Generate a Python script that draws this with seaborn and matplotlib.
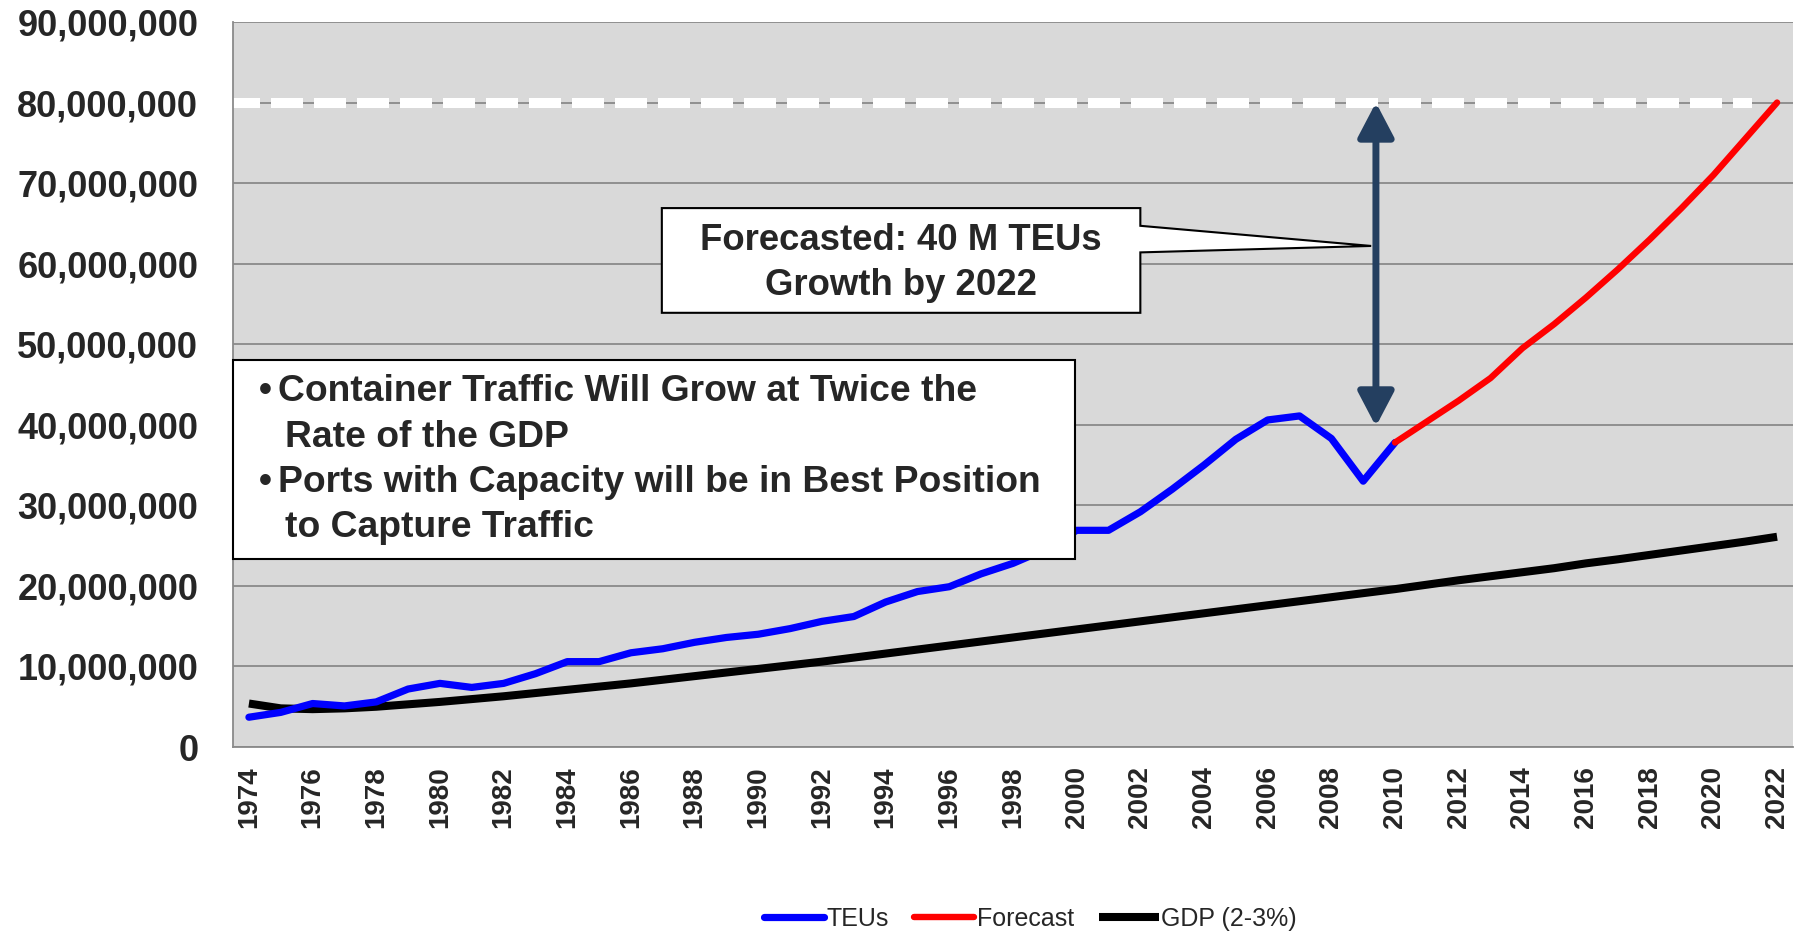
import numpy as np
import matplotlib
matplotlib.use("Agg")
import matplotlib.pyplot as plt
import seaborn as sns
from matplotlib.patches import Polygon, Rectangle
from matplotlib.ticker import FuncFormatter, MultipleLocator

# values in millions of TEUs
teu_years = list(range(1974, 2011))
teu_values = [3.7, 4.3, 5.4, 5.1, 5.6, 7.2, 7.9, 7.4, 7.9, 9.1,
              10.6, 10.6, 11.7, 12.2, 13.0, 13.6, 14.0, 14.7, 15.6, 16.2,
              18.0, 19.3, 19.9, 21.5, 22.8, 24.5, 26.9, 26.9, 29.2, 32.0,
              35.0, 38.2, 40.6, 41.1, 38.3, 33.0, 37.8]

forecast_years = list(range(2010, 2023))
forecast_values = [37.8, 40.4, 43.0, 45.8, 49.5, 52.5, 55.8, 59.3, 63.0,
                   66.9, 71.0, 75.5, 80.0]

gdp_years = list(range(1974, 2023))
gdp_values = [5.4, 4.8, 4.7, 4.8, 5.0, 5.3, 5.6, 5.95, 6.3, 6.7,
              7.1, 7.5, 7.9, 8.35, 8.8, 9.25, 9.7, 10.15, 10.6, 11.1,
              11.6, 12.1, 12.6, 13.1, 13.6, 14.1, 14.6, 15.1, 15.6, 16.1,
              16.6, 17.1, 17.6, 18.1, 18.6, 19.1, 19.6, 20.15, 20.7, 21.2,
              21.7, 22.2, 22.8, 23.3, 23.85, 24.4, 24.95, 25.5, 26.1]

capacity_level = 80.0
tick_years = list(range(1974, 2023, 2))

M = 1e6
sns.set_style("white")
plt.rcParams['font.family'] = ['Liberation Sans', 'DejaVu Sans']

fig = plt.figure(figsize=(18.02, 9.36), dpi=100)
ax = fig.add_axes([0.1293, 0.2019, 0.8657, 0.7746])
ax.set_facecolor('#D9D9D9')

grid_c = '#8A8A8A'
ax.set_ylim(0, 90 * M)
ax.set_xlim(1973.5, 2022.5)
ax.yaxis.set_major_locator(MultipleLocator(10 * M))
ax.yaxis.set_major_formatter(FuncFormatter(lambda v, p: f"{int(round(v)):,}"))
ax.grid(axis='y', color=grid_c, linewidth=1.3, zorder=0)
ax.set_axisbelow(True)
for s in ['top', 'right']:
    ax.spines[s].set_visible(False)
for s in ['left', 'bottom']:
    ax.spines[s].set_color(grid_c)
    ax.spines[s].set_linewidth(1.3)

# white dashed capacity line
ax.plot([1973.35, 2021.2], [capacity_level * M] * 2, color='white', linewidth=7.2,
        dashes=(3.2, 1.1), dash_capstyle='butt', clip_on=False, zorder=2)

sns.lineplot(x=teu_years, y=np.array(teu_values) * M, ax=ax, color='#0000FF',
             linewidth=5.2, label='TEUs', zorder=4, solid_capstyle='round',
             solid_joinstyle='round')
sns.lineplot(x=forecast_years, y=np.array(forecast_values) * M, ax=ax, color='#FF0000',
             linewidth=4.6, label='Forecast', zorder=4, solid_capstyle='round',
             solid_joinstyle='round')
sns.lineplot(x=gdp_years, y=np.array(gdp_values) * M, ax=ax, color='black',
             linewidth=5.8, label='GDP (2-3%)', zorder=3, solid_capstyle='butt',
             solid_joinstyle='round')

handles, labels = ax.get_legend_handles_labels()
ax.get_legend().remove()

# ticks
ax.set_xticks(tick_years)
ax.set_xticklabels([str(y) for y in tick_years], rotation=90, fontsize=20,
                   fontweight='bold')
ax.set_xticks(np.arange(1973.5, 2023, 2), minor=True)
ax.tick_params(axis='x', which='major', length=0, pad=14)
ax.tick_params(axis='x', which='minor', length=7, width=1.3, color=grid_c)
ax.tick_params(axis='y', length=5, width=1.3, color=grid_c, pad=20,
               labelsize=26)
for t in ax.get_yticklabels():
    t.set_fontweight('bold')
ax.set_xlabel('')
ax.set_ylabel('')

# bullet box
ax.add_patch(Rectangle((1973.5, 23.3 * M), 1999.95 - 1973.5, 24.7 * M,
                       facecolor='white', edgecolor='black', linewidth=1.5,
                       zorder=6, clip_on=False))
bullet_lines = [(1974.3, 1974.9, 44.1, '•', 'Container Traffic Will Grow at Twice the'),
                (None, 1975.13, 38.4, '', 'Rate of the GDP'),
                (1974.3, 1974.9, 32.8, '•', 'Ports with Capacity will be in Best Position'),
                (None, 1975.13, 27.2, '', 'to Capture Traffic')]
for bx, tx, ty, b, txt in bullet_lines:
    if bx is not None:
        ax.text(bx, ty * M, b, fontsize=26.8, fontweight='bold', va='center',
                ha='left', zorder=7)
    ax.text(tx, ty * M, txt, fontsize=26.8, fontweight='bold', va='center',
            ha='left', zorder=7)

# callout box with pointer
callout = [(1986.97, 66.9), (2002.0, 66.9), (2002.0, 64.7), (2009.25, 62.2),
           (2002.0, 61.4), (2002.0, 53.9), (1986.97, 53.9)]
ax.add_patch(Polygon([(x, y * M) for x, y in callout], closed=True,
                     facecolor='white', edgecolor='black', linewidth=1.5,
                     zorder=6))
ax.text(1994.47, 62.9 * M, 'Forecasted: 40 M TEUs', fontsize=26.3,
        fontweight='bold', ha='center', va='center', zorder=7)
ax.text(1994.47, 57.3 * M, 'Growth by 2022', fontsize=26.3,
        fontweight='bold', ha='center', va='center', zorder=7)

# double arrow
ax.annotate('', xy=(2009.4, capacity_level * M), xytext=(2009.4, 39.8 * M),
            arrowprops=dict(arrowstyle='<|-|>,head_length=1.05,head_width=0.55',
                            color='#243F60', linewidth=5, mutation_scale=20,
                            shrinkA=0, shrinkB=0),
            zorder=8)

fig.legend(handles, labels, loc='center', bbox_to_anchor=(0.572, 0.018),
           ncol=3, frameon=False, fontsize=18, handlelength=2.4,
           handletextpad=0.1, columnspacing=1.0)

fig.savefig('out.png', dpi=100)
